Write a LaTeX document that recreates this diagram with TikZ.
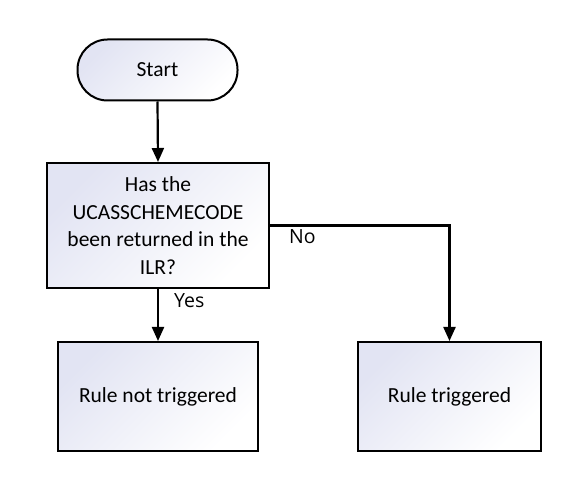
\documentclass[tikz,border=0pt]{standalone}
\usepackage{fontspec}
\setmainfont{Carlito}
\newfontfamily\lblfont{Open Sans}
\usetikzlibrary{arrows.meta,positioning}
\definecolor{lav}{HTML}{E2E4F3}
\tikzset{
  shapebox/.style={draw=black, line width=2pt, top color=lav, bottom color=white, shading angle=45, align=center, inner sep=0pt, font=\fontsize{21.5}{27.5}\selectfont},
  conn/.style={line width=2.2pt, -{Triangle[width=12pt,length=14pt]}},
  lbl/.style={font=\lblfont\fontsize{19.5}{22}\selectfont, inner sep=0pt}
}
\begin{document}
\begin{tikzpicture}[x=1pt,y=-1pt]
\useasboundingbox (0,0) rectangle (568,478);
\node[shapebox, minimum width=160pt, minimum height=61pt, rounded corners=30pt] (start) at (157.5,70) {Start};
\node[shapebox, minimum width=222pt, minimum height=125pt] (dec) at (158,225.5) {Has the\\UCASSCHEMECODE\\been returned in the\\ILR?};
\node[shapebox, minimum width=200pt, minimum height=109pt] (not) at (158,396.5) {Rule not triggered};
\node[shapebox, minimum width=183pt, minimum height=109pt] (trig) at (449.5,396.5) {Rule triggered};
\draw[conn] (start.south) -- (dec.north);
\draw[conn] (dec.south) -- (not.north);
\draw[conn] (dec.east) -| (trig.north);
\node[lbl, anchor=base west] (no) at (289,244) {No};
\node[lbl, anchor=base west] (yes) at (174,308) {Yes};
\end{tikzpicture}
\end{document}
